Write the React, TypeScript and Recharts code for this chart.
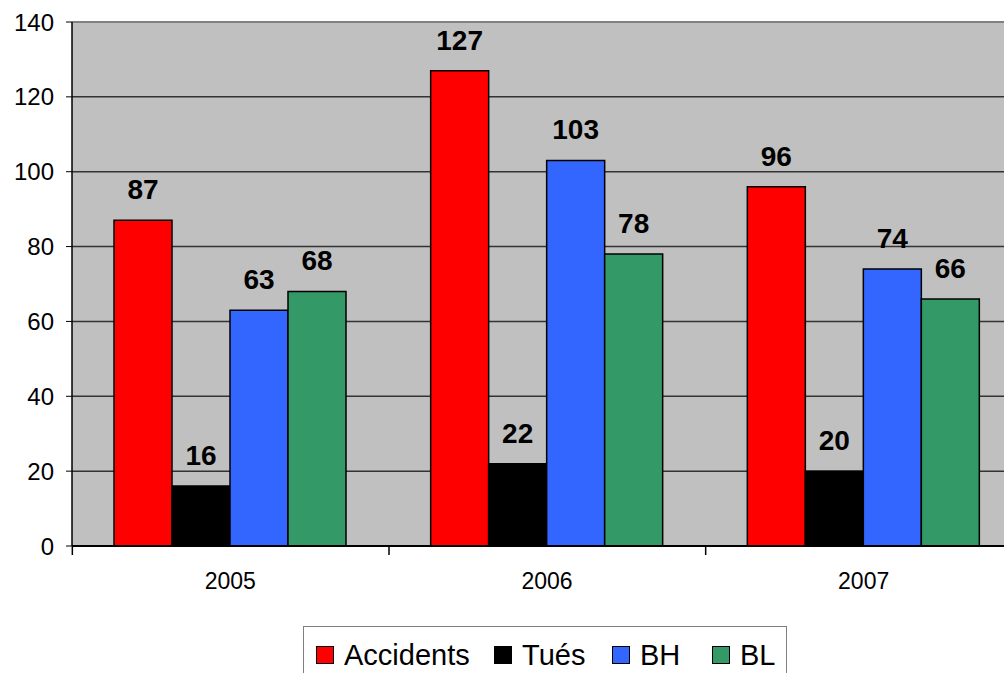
import {
  Bar,
  BarChart,
  CartesianGrid,
  LabelList,
  Legend,
  ReferenceLine,
  XAxis,
  YAxis,
} from "recharts";

const years = ["2005", "2006", "2007"];
const accidents = [87, 127, 96];
const tues = [16, 22, 20];
const bh = [63, 103, 74];
const bl = [68, 78, 66];
const yTicks = [0, 20, 40, 60, 80, 100, 120, 140];

const series = [
  { key: "Accidents", color: "#ff0000" },
  { key: "Tués", color: "#000000" },
  { key: "BH", color: "#3366ff" },
  { key: "BL", color: "#339966" },
];

const data = years.map((year, i) => ({
  year,
  Accidents: accidents[i],
  Tués: tues[i],
  BH: bh[i],
  BL: bl[i],
}));

const FONT = "Arial, 'Liberation Sans', sans-serif";
const BAND = 316; // width of one category on the x axis

// category label in the middle, small tick mark at the left edge of the band
const YearTick = (props: any) => {
  const { x, y, payload } = props;
  return (
    <g>
      <line x1={x - BAND / 2} x2={x - BAND / 2} y1={y - 8} y2={y + 1} stroke="#000" strokeWidth={1.5} />
      <text x={x} y={y + 35} textAnchor="middle" fontSize={23} fontFamily={FONT} fill="#000">
        {payload.value}
      </text>
    </g>
  );
};

const itemWidths = [178, 118, 100, 70];

const LegendBox = () => (
  <div
    style={{
      border: "1px solid #808080",
      background: "#fff",
      height: 60,
      width: 484,
      boxSizing: "border-box",
      display: "flex",
      alignItems: "flex-start",
      paddingLeft: 12,
      paddingTop: 13,
      fontFamily: FONT,
      fontSize: 29,
      color: "#000",
    }}
  >
    {series.map((s, i) => (
      <div key={s.key} style={{ display: "flex", alignItems: "center", width: itemWidths[i] }}>
        <span
          style={{
            display: "inline-block",
            width: 16,
            height: 16,
            background: s.color,
            border: "1px solid #000",
            marginRight: 10,
          }}
        />
        <span style={{ lineHeight: "30px" }}>{s.key}</span>
      </div>
    ))}
  </div>
);

export default function App() {
  return (
    <div
      style={{
        position: "absolute",
        left: 0,
        top: 0,
        width: 1004,
        height: 673,
        overflow: "hidden",
        background: "#fff",
      }}
    >
      <BarChart
        width={1032}
        height={700}
        data={data}
        margin={{ top: 22, right: 10, left: 0, bottom: 0 }}
        barSize={58}
        barGap={0}
      >
        <CartesianGrid vertical={false} fill="#c0c0c0" stroke="#333" strokeWidth={1.5} />
        <ReferenceLine y={140} stroke="#808080" strokeWidth={2} />
        <XAxis
          dataKey="year"
          height={154}
          axisLine={{ stroke: "#000", strokeWidth: 2 }}
          tickLine={false}
          tick={<YearTick />}
        />
        <YAxis
          width={72}
          domain={[0, 140]}
          ticks={yTicks}
          axisLine={{ stroke: "#000", strokeWidth: 1.5 }}
          tickLine={{ stroke: "#000" }}
          tickSize={6}
          tickMargin={12}
          tick={{ fontSize: 24, fontFamily: FONT, fill: "#000" }}
        />
        <Legend
          verticalAlign="middle"
          align="center"
          wrapperStyle={{ position: "absolute", left: 303, top: 626, width: 484 }}
          content={<LegendBox />}
        />
        {series.map((s) => (
          <Bar
            key={s.key}
            dataKey={s.key}
            fill={s.color}
            stroke="#000"
            strokeWidth={1.5}
            isAnimationActive={false}
          >
            <LabelList
              dataKey={s.key}
              position="top"
              offset={21}
              fontSize={28}
              fontWeight="bold"
              fontFamily={FONT}
              fill="#000"
            />
          </Bar>
        ))}
      </BarChart>
    </div>
  );
}
